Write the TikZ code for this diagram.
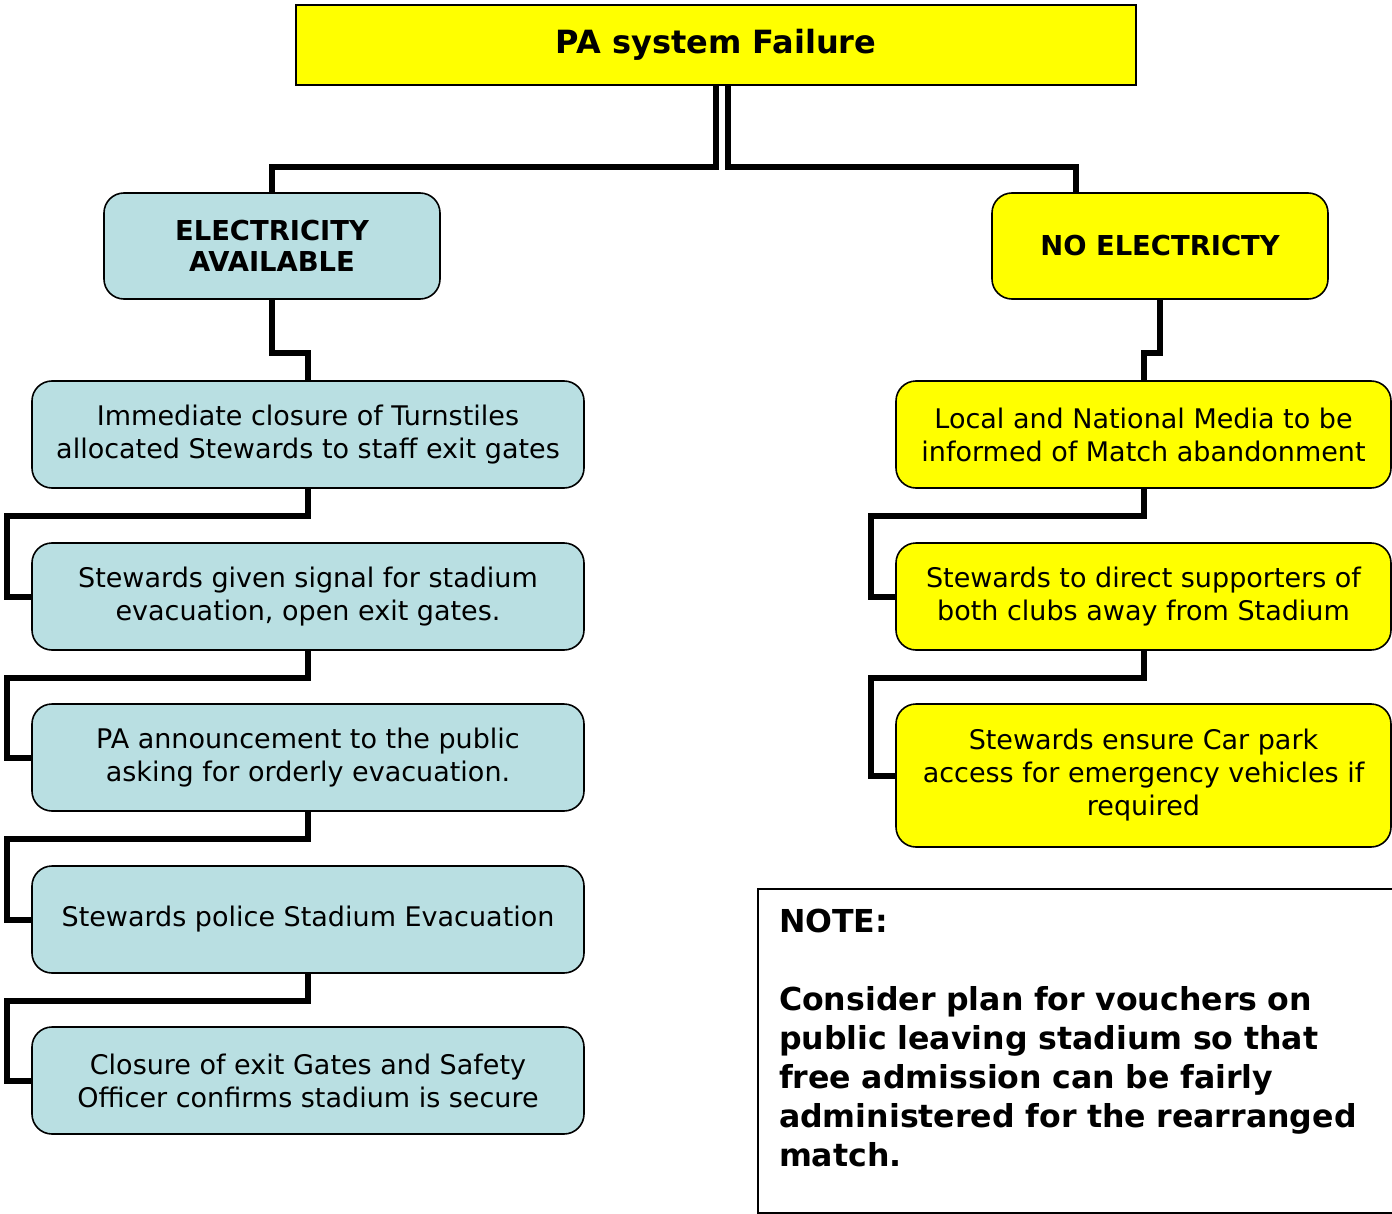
\documentclass[tikz,border=0pt]{standalone}
\usepackage{fontspec}
\setmainfont{DejaVu Sans}
\definecolor{paleblue}{RGB}{185,223,226}
\definecolor{brightyellow}{RGB}{255,255,0}

\begin{document}
\begin{tikzpicture}[x = 0.5pt, y = -0.5pt,
    every node/.style = {draw, line width = 0.8pt, align = center, inner sep = 2pt,
        font = \fontsize{13.5}{16.5}\selectfont},
    stepblue/.style = {fill = paleblue, rounded corners = 10pt, minimum width = 276pt, minimum height = 53.5pt},
    stepyellow/.style = {fill = brightyellow, rounded corners = 10pt, minimum width = 247.5pt, minimum height = 53.5pt},
    headbox/.style = {rounded corners = 10pt, minimum width = 168pt, minimum height = 53pt,
        font = \bfseries\fontsize{13.7}{15.5}\selectfont},
    link/.style = {draw, line width = 3pt}]
    \useasboundingbox (0,0) rectangle (1392,1214);

    % top of the tree
    \node[fill = brightyellow, minimum width = 420pt, minimum height = 40pt,
        font = \bfseries\fontsize{16}{18}\selectfont] (fail) at (716,45) {PA system Failure};
    \node[headbox, fill = paleblue] (power) at (272,246) {ELECTRICITY\\AVAILABLE};
    \node[headbox, fill = brightyellow] (nopower) at (1160,246) {NO ELECTRICTY};

    % left branch
    \node[stepblue] (closure) at (308,434.5) {Immediate closure of Turnstiles\\allocated Stewards to staff exit gates};
    \node[stepblue] (signal) at (308,596.5) {Stewards given signal for stadium\\evacuation, open exit gates.};
    \node[stepblue] (announce) at (308,757.5) {PA announcement to the public\\asking for orderly evacuation.};
    \node[stepblue] (police) at (308,919.5) {Stewards police Stadium Evacuation};
    \node[stepblue] (secure) at (308,1080.5) {Closure of exit Gates and Safety\\Officer confirms stadium is secure};

    % right branch
    \node[stepyellow] (media) at (1143.5,434.5) {Local and National Media to be\\informed of Match abandonment};
    \node[stepyellow] (direct) at (1143.5,596.5) {Stewards to direct supporters of\\both clubs away from Stadium};
    \node[stepyellow, minimum height = 71.5pt] (carpark) at (1143.5,775.5) {Stewards ensure Car park\\access for emergency vehicles if\\required};

    \node[line width = 1pt, text width = 299pt, text depth = 130pt, minimum height = 162pt, anchor = north west,
        align = left, inner xsep = 10.5pt, font = \bfseries\fontsize{15.8}{19.5}\selectfont] (note) at (757,888)
        {NOTE:\\[19.5pt]Consider plan for vouchers on\\public leaving stadium so that\\free admission can be fairly\\administered for the rearranged\\match.};

    % connectors
    \path[link] (fail.south) -- ++(0,81) -| (power.north);
    \path[link] ([xshift = 6pt]fail.south) -- ++(0,81) -| ([xshift = -42pt]nopower.north);
    \path[link] (power.south) -- ++(0,53) -| (closure.north);
    \path[link] (nopower.south) -- ++(0,53) -| (media.north);
    \path[link] (closure.south) -- ++(0,27) -| ([xshift = -12pt]signal.west) -- (signal.west);
    \path[link] (signal.south) -- ++(0,27) -| ([xshift = -12pt]announce.west) -- (announce.west);
    \path[link] (announce.south) -- ++(0,27) -| ([xshift = -12pt]police.west) -- (police.west);
    \path[link] (police.south) -- ++(0,27) -| ([xshift = -12pt]secure.west) -- (secure.west);
    \path[link] (media.south) -- ++(0,27) -| ([xshift = -12pt]direct.west) -- (direct.west);
    \path[link] (direct.south) -- ++(0,27) -| ([xshift = -12pt]carpark.west) -- (carpark.west);
\end{tikzpicture}
\end{document}
